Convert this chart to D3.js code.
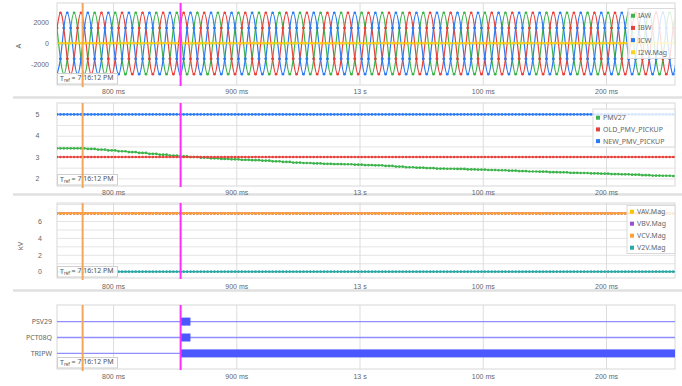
<!DOCTYPE html>
<html>
<head>
<meta charset="utf-8">
<script src="https://cdn.jsdelivr.net/npm/d3@7"></script>
<style>
  body { margin: 0; background: #fff; }
  svg { display: block; font-family: "Noto Sans", "DejaVu Sans", sans-serif; }
</style>
</head>
<body>
<svg id="chart" width="682" height="386"></svg>
<script>
// ---- time base (ms inside second 12) ----
const baseSecond = 12;
const startMs = 754.5;            // first sample
const sampleMs = 1000 / 360;      // 6 samples per 60 Hz cycle
const timeDomain = [754.5, 1256];
const timeTicks = [800, 900, 1000, 1100, 1200];
const cursorOrangeMs = 775.3;
const cursorMagentaMs = 854.8;
const refTime = "7:16:12 PM";

// ---- currents (A) ----
const IAW = [
 1450,-1450,-2900,-1450,1450,2900, 1450,-1450,-2900,-1450,1450,2900, 1450,-1450,-2900,-1450,1450,2900, 1450,-1450,-2900,-1450,1450,2900, 1450,-1450,-2900,-1450,1450,2900,
 1450,-1450,-2900,-1450,1450,2900, 1450,-1450,-2900,-1450,1450,2900, 1450,-1450,-2900,-1450,1450,2900, 1450,-1450,-2900,-1450,1450,2900, 1450,-1450,-2900,-1450,1450,2900,
 1450,-1450,-2900,-1450,1450,2900, 1450,-1450,-2900,-1450,1450,2900, 1450,-1450,-2900,-1450,1450,2900, 1450,-1450,-2900,-1450,1450,2900, 1450,-1450,-2900,-1450,1450,2900,
 1450,-1450,-2900,-1450,1450,2900, 1450,-1450,-2900,-1450,1450,2900, 1450,-1450,-2900,-1450,1450,2900, 1450,-1450,-2900,-1450,1450,2900, 1450,-1450,-2900,-1450,1450,2900,
 1450,-1450,-2900,-1450,1450,2900, 1450,-1450,-2900,-1450,1450,2900, 1450,-1450,-2900,-1450,1450,2900, 1450,-1450,-2900,-1450,1450,2900, 1450,-1450,-2900,-1450,1450,2900,
 1450,-1450,-2900,-1450,1450,2900, 1450,-1450,-2900,-1450,1450,2900, 1450,-1450,-2900,-1450,1450,2900, 1450,-1450,-2900,-1450,1450,2900, 1450,-1450,-2900,-1450,1450,2900,
 1450,-1450
];
const IBW = [
 1450,2900,1450,-1450,-2900,-1450, 1450,2900,1450,-1450,-2900,-1450, 1450,2900,1450,-1450,-2900,-1450, 1450,2900,1450,-1450,-2900,-1450, 1450,2900,1450,-1450,-2900,-1450,
 1450,2900,1450,-1450,-2900,-1450, 1450,2900,1450,-1450,-2900,-1450, 1450,2900,1450,-1450,-2900,-1450, 1450,2900,1450,-1450,-2900,-1450, 1450,2900,1450,-1450,-2900,-1450,
 1450,2900,1450,-1450,-2900,-1450, 1450,2900,1450,-1450,-2900,-1450, 1450,2900,1450,-1450,-2900,-1450, 1450,2900,1450,-1450,-2900,-1450, 1450,2900,1450,-1450,-2900,-1450,
 1450,2900,1450,-1450,-2900,-1450, 1450,2900,1450,-1450,-2900,-1450, 1450,2900,1450,-1450,-2900,-1450, 1450,2900,1450,-1450,-2900,-1450, 1450,2900,1450,-1450,-2900,-1450,
 1450,2900,1450,-1450,-2900,-1450, 1450,2900,1450,-1450,-2900,-1450, 1450,2900,1450,-1450,-2900,-1450, 1450,2900,1450,-1450,-2900,-1450, 1450,2900,1450,-1450,-2900,-1450,
 1450,2900,1450,-1450,-2900,-1450, 1450,2900,1450,-1450,-2900,-1450, 1450,2900,1450,-1450,-2900,-1450, 1450,2900,1450,-1450,-2900,-1450, 1450,2900,1450,-1450,-2900,-1450,
 1450,2900
];
const ICW = [
 -2900,-1450,1450,2900,1450,-1450, -2900,-1450,1450,2900,1450,-1450, -2900,-1450,1450,2900,1450,-1450, -2900,-1450,1450,2900,1450,-1450, -2900,-1450,1450,2900,1450,-1450,
 -2900,-1450,1450,2900,1450,-1450, -2900,-1450,1450,2900,1450,-1450, -2900,-1450,1450,2900,1450,-1450, -2900,-1450,1450,2900,1450,-1450, -2900,-1450,1450,2900,1450,-1450,
 -2900,-1450,1450,2900,1450,-1450, -2900,-1450,1450,2900,1450,-1450, -2900,-1450,1450,2900,1450,-1450, -2900,-1450,1450,2900,1450,-1450, -2900,-1450,1450,2900,1450,-1450,
 -2900,-1450,1450,2900,1450,-1450, -2900,-1450,1450,2900,1450,-1450, -2900,-1450,1450,2900,1450,-1450, -2900,-1450,1450,2900,1450,-1450, -2900,-1450,1450,2900,1450,-1450,
 -2900,-1450,1450,2900,1450,-1450, -2900,-1450,1450,2900,1450,-1450, -2900,-1450,1450,2900,1450,-1450, -2900,-1450,1450,2900,1450,-1450, -2900,-1450,1450,2900,1450,-1450,
 -2900,-1450,1450,2900,1450,-1450, -2900,-1450,1450,2900,1450,-1450, -2900,-1450,1450,2900,1450,-1450, -2900,-1450,1450,2900,1450,-1450, -2900,-1450,1450,2900,1450,-1450,
 -2900,-1450
];
const I2W_MAG = [
 25,25,25,25,25,25,25,25,25,25,25,25,25,25,25,25,25,25,25,25,25,25,25,25,25,25,
 25,25,25,25,25,25,25,25,25,25,25,25,25,25,25,25,25,25,25,25,25,25,25,25,25,25,
 25,25,25,25,25,25,25,25,25,25,25,25,25,25,25,25,25,25,25,25,25,25,25,25,25,25,
 25,25,25,25,25,25,25,25,25,25,25,25,25,25,25,25,25,25,25,25,25,25,25,25,25,25,
 25,25,25,25,25,25,25,25,25,25,25,25,25,25,25,25,25,25,25,25,25,25,25,25,25,25,
 25,25,25,25,25,25,25,25,25,25,25,25,25,25,25,25,25,25,25,25,25,25,25,25,25,25,
 25,25,25,25,25,25,25,25,25,25,25,25,25,25,25,25,25,25,25,25,25,25,25,25,25,25
];

// ---- PMV elements ----
const PMV27 = [
 3.41,3.41,3.41,3.41,3.41,3.41,3.41,3.41,3.41,
 3.38,3.38,3.38, 3.35,3.35,3.35, 3.31,3.31,3.31, 3.27,3.27,3.27, 3.23,3.23,3.23, 3.19,3.19,3.19,
 3.15,3.15,3.15, 3.11,3.11,3.11, 3.07,3.07,3.07, 3.03,3.03,3.03, 3.00,3.00,3.00, 2.97,2.97,2.97,
 2.94,2.94,2.94, 2.91,2.91,2.91, 2.89,2.89,2.89, 2.87,2.87,2.87, 2.85,2.85,2.85, 2.83,2.83,2.83,
 2.80,2.80,2.80, 2.77,2.77,2.77, 2.74,2.74,2.74, 2.72,2.72,2.72, 2.70,2.70,2.70, 2.68,2.68,2.68,
 2.67,2.67,2.67, 2.66,2.66,2.66, 2.64,2.64,2.64, 2.62,2.62,2.62, 2.61,2.61,2.61, 2.58,2.58,2.58,
 2.55,2.55,2.55, 2.52,2.52,2.52, 2.50,2.50,2.50, 2.48,2.48,2.48, 2.46,2.46,2.46, 2.45,2.45,2.45,
 2.44,2.44,2.44, 2.42,2.42,2.42, 2.41,2.41,2.41, 2.39,2.39,2.39, 2.38,2.38,2.38, 2.36,2.36,2.36,
 2.34,2.34,2.34, 2.32,2.32,2.32, 2.31,2.31,2.31, 2.29,2.29,2.29, 2.28,2.28,2.28, 2.26,2.26,2.26,
 2.25,2.25,2.25, 2.23,2.23,2.23, 2.22,2.22,2.22, 2.20,2.20,2.20, 2.19,2.19,2.19, 2.17,2.17,2.17,
 2.15,2.15,2.15, 2.13,2.13,2.13, 2.12,2.12,2.12,
 2.11,2.11
];
const OLD_PMV_PICKUP = [
 3,3,3,3,3,3,3,3,3,3,3,3,3,3,3,3,3,3,3,3,3,3,3,3,3,3,
 3,3,3,3,3,3,3,3,3,3,3,3,3,3,3,3,3,3,3,3,3,3,3,3,3,3,
 3,3,3,3,3,3,3,3,3,3,3,3,3,3,3,3,3,3,3,3,3,3,3,3,3,3,
 3,3,3,3,3,3,3,3,3,3,3,3,3,3,3,3,3,3,3,3,3,3,3,3,3,3,
 3,3,3,3,3,3,3,3,3,3,3,3,3,3,3,3,3,3,3,3,3,3,3,3,3,3,
 3,3,3,3,3,3,3,3,3,3,3,3,3,3,3,3,3,3,3,3,3,3,3,3,3,3,
 3,3,3,3,3,3,3,3,3,3,3,3,3,3,3,3,3,3,3,3,3,3,3,3,3,3
];
const NEW_PMV_PICKUP = [
 5,5,5,5,5,5,5,5,5,5,5,5,5,5,5,5,5,5,5,5,5,5,5,5,5,5,
 5,5,5,5,5,5,5,5,5,5,5,5,5,5,5,5,5,5,5,5,5,5,5,5,5,5,
 5,5,5,5,5,5,5,5,5,5,5,5,5,5,5,5,5,5,5,5,5,5,5,5,5,5,
 5,5,5,5,5,5,5,5,5,5,5,5,5,5,5,5,5,5,5,5,5,5,5,5,5,5,
 5,5,5,5,5,5,5,5,5,5,5,5,5,5,5,5,5,5,5,5,5,5,5,5,5,5,
 5,5,5,5,5,5,5,5,5,5,5,5,5,5,5,5,5,5,5,5,5,5,5,5,5,5,
 5,5,5,5,5,5,5,5,5,5,5,5,5,5,5,5,5,5,5,5,5,5,5,5,5,5
];

// ---- voltage magnitudes (kV) ----
const VAV_MAG = [
 6.9,6.9,6.9,6.9,6.9,6.9,6.9,6.9,6.9,6.9,6.9,6.9,6.9,6.9,6.9,6.9,6.9,6.9,6.9,6.9,6.9,6.9,6.9,6.9,6.9,6.9,
 6.9,6.9,6.9,6.9,6.9,6.9,6.9,6.9,6.9,6.9,6.9,6.9,6.9,6.9,6.9,6.9,6.9,6.9,6.9,6.9,6.9,6.9,6.9,6.9,6.9,6.9,
 6.9,6.9,6.9,6.9,6.9,6.9,6.9,6.9,6.9,6.9,6.9,6.9,6.9,6.9,6.9,6.9,6.9,6.9,6.9,6.9,6.9,6.9,6.9,6.9,6.9,6.9,
 6.9,6.9,6.9,6.9,6.9,6.9,6.9,6.9,6.9,6.9,6.9,6.9,6.9,6.9,6.9,6.9,6.9,6.9,6.9,6.9,6.9,6.9,6.9,6.9,6.9,6.9,
 6.9,6.9,6.9,6.9,6.9,6.9,6.9,6.9,6.9,6.9,6.9,6.9,6.9,6.9,6.9,6.9,6.9,6.9,6.9,6.9,6.9,6.9,6.9,6.9,6.9,6.9,
 6.9,6.9,6.9,6.9,6.9,6.9,6.9,6.9,6.9,6.9,6.9,6.9,6.9,6.9,6.9,6.9,6.9,6.9,6.9,6.9,6.9,6.9,6.9,6.9,6.9,6.9,
 6.9,6.9,6.9,6.9,6.9,6.9,6.9,6.9,6.9,6.9,6.9,6.9,6.9,6.9,6.9,6.9,6.9,6.9,6.9,6.9,6.9,6.9,6.9,6.9,6.9,6.9
];
const VBV_MAG = VAV_MAG.slice();
const VCV_MAG = VAV_MAG.slice();
const V2V_MAG = [
 0,0,0,0,0,0,0,0,0,0,0,0,0,0,0,0,0,0,0,0,0,0,0,0,0,0,
 0,0,0,0,0,0,0,0,0,0,0,0,0,0,0,0,0,0,0,0,0,0,0,0,0,0,
 0,0,0,0,0,0,0,0,0,0,0,0,0,0,0,0,0,0,0,0,0,0,0,0,0,0,
 0,0,0,0,0,0,0,0,0,0,0,0,0,0,0,0,0,0,0,0,0,0,0,0,0,0,
 0,0,0,0,0,0,0,0,0,0,0,0,0,0,0,0,0,0,0,0,0,0,0,0,0,0,
 0,0,0,0,0,0,0,0,0,0,0,0,0,0,0,0,0,0,0,0,0,0,0,0,0,0,
 0,0,0,0,0,0,0,0,0,0,0,0,0,0,0,0,0,0,0,0,0,0,0,0,0,0
];

// ---- digital elements: asserted intervals [on, off] in ms ----
const digitalNames = ["PSV29", "PCT08Q", "TRIPW"];
const digitalOn = [[854.8, 862.8], [854.8, 862.8], [854.8, 1256]];

// ---------------------------------------------------------------
const svg = d3.select("#chart");
const X0 = 57, X1 = 675;
const x = d3.scaleLinear().domain(timeDomain).range([X0, X1]);
const sampleTime = i => startMs + i * sampleMs;
const fmtTime = v => {
  const ms = Math.round(v % 1000);
  return ms === 0 ? (baseSecond + Math.floor(v / 1000)) + " s" : ms + " ms";
};
const fmtValue = v => String(v);
const TEXT = "#666";
const FS = 7;

// panel separators
[97.5, 194.5, 290.5].forEach(yy => {
  svg.append("line").attr("x1", 13).attr("x2", 682).attr("y1", yy).attr("y2", yy)
    .attr("stroke", "#e0e0e0").attr("stroke-width", 2.5);
});

function frame(p, yScale) {
  const g = svg.append("g");
  // horizontal grid
  if (yScale && p.yGrid) {
    g.append("g").attr("transform", `translate(${X0},0)`)
      .call(d3.axisLeft(yScale).tickValues(p.yGrid).tickSize(-(X1 - X0)).tickFormat(""))
      .call(a => a.select(".domain").remove())
      .call(a => a.selectAll("line").attr("stroke", "#e4e4e4"));
  }
  // vertical grid
  g.append("g").attr("transform", `translate(0,${p.bottom})`)
    .call(d3.axisBottom(x).tickValues(timeTicks).tickSize(-(p.bottom - p.top)).tickFormat(""))
    .call(a => a.select(".domain").remove())
    .call(a => a.selectAll("line").attr("stroke", "#dcdcdc"));
  g.append("rect").attr("x", X0).attr("y", p.top).attr("width", X1 - X0).attr("height", p.bottom - p.top)
    .attr("fill", "none").attr("stroke", "#d8d8d8");
  // time labels
  g.append("g").attr("transform", `translate(0,${p.bottom})`)
    .call(d3.axisBottom(x).tickValues(timeTicks).tickSize(0).tickFormat(fmtTime))
    .call(a => a.select(".domain").remove())
    .call(a => a.selectAll("text").attr("y", p.xLabelY - p.bottom).attr("dy", "0.35em")
      .attr("fill", TEXT).attr("font-size", FS).attr("font-family", null));
  // value labels
  if (yScale && p.yTicks) {
    g.append("g").attr("transform", `translate(${X0},0)`)
      .call(d3.axisLeft(yScale).tickValues(p.yTicks).tickSize(0).tickPadding(X0 - p.tickRight).tickFormat(fmtValue))
      .call(a => a.select(".domain").remove())
      .call(a => a.selectAll("text").attr("fill", TEXT).attr("font-size", FS).attr("font-family", null));
  }
  if (p.yLabel) {
    g.append("text").attr("transform", `translate(${p.yLabelPos[0]},${p.yLabelPos[1]}) rotate(-90)`)
      .attr("text-anchor", "middle").attr("dy", "0.35em").attr("fill", TEXT).attr("font-size", FS + 0.5)
      .text(p.yLabel);
  }
  return g;
}

function clipFor(p) {
  const id = "clip" + p.id;
  svg.append("clipPath").attr("id", id).append("rect")
    .attr("x", X0).attr("y", p.top).attr("width", X1 - X0).attr("height", p.bottom - p.top);
  return `url(#${id})`;
}

function traces(p, yScale) {
  const g = svg.append("g").attr("clip-path", clipFor(p));
  p.series.forEach(s => {
    const line = d3.line().x((d, i) => x(sampleTime(i))).y(d => yScale(d)).curve(s.curve || d3.curveLinear);
    g.append("path").attr("d", line(s.values)).attr("fill", "none")
      .attr("stroke", s.color).attr("stroke-width", 1.2);
    g.append("g").selectAll("circle").data(s.values).join("circle")
      .attr("cx", (d, i) => x(sampleTime(i))).attr("cy", d => yScale(d))
      .attr("r", 1.35).attr("fill", s.color);
  });
}

function legend(p) {
  const L = p.legend;
  const g = svg.append("g");
  g.append("rect").attr("x", L.x).attr("y", L.y).attr("width", L.w).attr("height", L.h)
    .attr("fill", "#fff").attr("fill-opacity", 0.82).attr("stroke", "#dadada");
  p.series.forEach((s, i) => {
    const yy = L.first + i * L.step;
    g.append("rect").attr("x", L.x + 3).attr("y", yy - 2).attr("width", 4).attr("height", 4).attr("fill", s.color);
    g.append("text").attr("x", L.x + 10).attr("y", yy).attr("dy", "0.35em")
      .attr("fill", TEXT).attr("font-size", FS).text(s.name);
  });
}

function refBox(p) {
  const g = svg.append("g");
  const h = 10.5, yb = p.bottom - 1;
  g.append("rect").attr("x", X0 + 0.5).attr("y", yb - h).attr("width", 60).attr("height", h)
    .attr("fill", "#fff").attr("fill-opacity", 0.9).attr("stroke", "#cfcfcf");
  const t = g.append("text").attr("x", X0 + 3).attr("y", yb - h / 2).attr("dy", "0.35em")
    .attr("fill", "#555").attr("font-size", FS);
  t.append("tspan").text("T");
  t.append("tspan").attr("font-size", 4.5).attr("dy", "0.25em").text("ref");
  t.append("tspan").attr("dy", "-0.3em").text(" = " + refTime);
}

function cursors(p) {
  svg.append("line").attr("x1", x(cursorOrangeMs)).attr("x2", x(cursorOrangeMs))
    .attr("y1", p.top).attr("y2", p.bottom + 2).attr("stroke", "#f2a65a").attr("stroke-width", 2);
  svg.append("line").attr("x1", x(cursorMagentaMs)).attr("x2", x(cursorMagentaMs))
    .attr("y1", p.top).attr("y2", p.bottom + 1).attr("stroke", "#ff2cff").attr("stroke-width", 2);
}

// ---- panel 1: currents ----
const p1 = {
  id: 1, top: 3, bottom: 85, yDomain: [-3920, 3820],
  yTicks: [-2000, 0, 2000], yGrid: [-2000, 0, 2000], tickRight: 49,
  yLabel: "A", yLabelPos: [18, 46], xLabelY: 92,
  series: [
    { name: "IAW", values: IAW, color: "#3cb44b", curve: d3.curveNatural },
    { name: "IBW", values: IBW, color: "#e8403a", curve: d3.curveNatural },
    { name: "ICW", values: ICW, color: "#2b7bf3", curve: d3.curveNatural },
    { name: "I2W.Mag", values: I2W_MAG, color: "#ffd21a" }
  ],
  legend: { x: 628, y: 8.5, w: 47, h: 50, first: 15.7, step: 12.2 }
};
// ---- panel 2: PMV pickup comparison ----
const p2 = {
  id: 2, top: 103, bottom: 186, yDomain: [1.64, 5.535],
  yTicks: [2, 3, 4, 5], yGrid: [2, 2.5, 3, 3.5, 4, 4.5, 5], tickRight: 39.5,
  xLabelY: 192.5,
  series: [
    { name: "PMV27", values: PMV27, color: "#3cb44b" },
    { name: "OLD_PMV_PICKUP", values: OLD_PMV_PICKUP, color: "#e8403a" },
    { name: "NEW_PMV_PICKUP", values: NEW_PMV_PICKUP, color: "#2b7bf3" }
  ],
  legend: { x: 593, y: 109, w: 82, h: 38, first: 117.7, step: 11.7 }
};
// ---- panel 3: voltage magnitudes ----
const p3 = {
  id: 3, top: 203, bottom: 278, yDomain: [-0.745, 8.13],
  yTicks: [0, 2, 4, 6], yGrid: [0, 1, 2, 3, 4, 5, 6, 7, 8], tickRight: 42,
  yLabel: "kV", yLabelPos: [20, 246], xLabelY: 287,
  series: [
    { name: "VAV.Mag", values: VAV_MAG, color: "#f5c400" },
    { name: "VBV.Mag", values: VBV_MAG, color: "#9a4fd1" },
    { name: "VCV.Mag", values: VCV_MAG, color: "#ffa035" },
    { name: "V2V.Mag", values: V2V_MAG, color: "#2aa8a8" }
  ],
  legend: { x: 627, y: 205.5, w: 48, h: 48, first: 211.7, step: 12 }
};
// ---- panel 4: digital elements ----
const p4 = { id: 4, top: 305, bottom: 369, xLabelY: 377 };

[p1, p2, p3].forEach(p => {
  const y = d3.scaleLinear().domain(p.yDomain).range([p.bottom, p.top]);
  frame(p, y);
  traces(p, y);
  legend(p);
  refBox(p);
  cursors(p);
});

// digital panel
frame(p4, null);
const row = d3.scalePoint().domain(digitalNames).range([321.6, 353.4]);
const dg = svg.append("g").attr("clip-path", clipFor(p4));
digitalNames.forEach((name, i) => {
  dg.append("line").attr("x1", X0).attr("x2", X1).attr("y1", row(name)).attr("y2", row(name))
    .attr("stroke", "#8f8fff").attr("stroke-width", 1.3);
  dg.append("rect").attr("x", x(digitalOn[i][0])).attr("y", row(name) - 4)
    .attr("width", x(digitalOn[i][1]) - x(digitalOn[i][0])).attr("height", 8)
    .attr("fill", "#4b58ff");
  svg.append("text").attr("x", 52).attr("y", row(name)).attr("dy", "0.35em").attr("text-anchor", "end")
    .attr("fill", TEXT).attr("font-size", FS).text(name);
});
refBox(p4);
cursors(p4);
</script>
</body>
</html>
